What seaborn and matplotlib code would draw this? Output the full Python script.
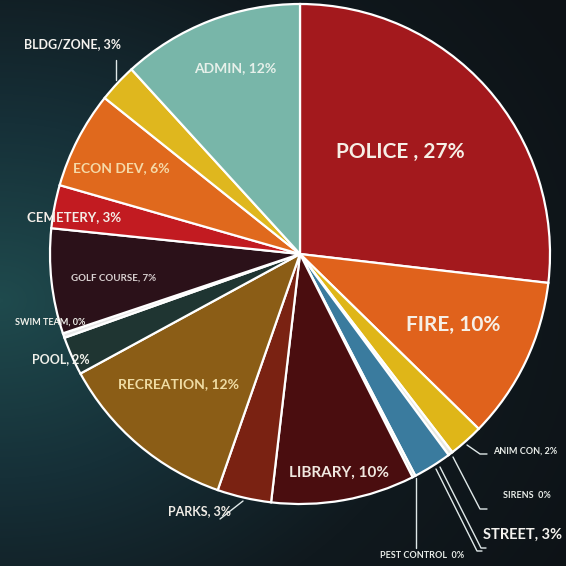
import numpy as np
import matplotlib
matplotlib.use("Agg")
import matplotlib.pyplot as plt
from matplotlib.colors import LinearSegmentedColormap
import seaborn as sns

sns.set_theme(style="white")
plt.rcParams['font.family'] = ['Lato', 'DejaVu Sans']

# ---- data (clockwise from 12 o'clock) ----
categories = ["POLICE", "FIRE", "ANIM CON", "SIRENS", "STREET", "PEST CONTROL",
              "LIBRARY", "PARKS", "RECREATION", "POOL", "SWIM TEAM",
              "GOLF COURSE", "CEMETERY", "ECON DEV", "BLDG/ZONE", "ADMIN"]
shares = [26.9, 10.5, 2.25, 0.3, 2.5, 0.2, 9.3, 3.5, 11.75, 2.5, 0.3,
          6.8, 2.8, 6.3, 2.5, 11.8]
labels = ["POLICE , 27%", "FIRE, 10%", "ANIM CON, 2%", "SIRENS  0%", "STREET, 3%",
          "PEST CONTROL  0%", "LIBRARY, 10%", "PARKS, 3%", "RECREATION, 12%",
          "POOL, 2%", "SWIM TEAM, 0%", "GOLF COURSE, 7%", "CEMETERY, 3%",
          "ECON DEV, 6%", "BLDG/ZONE, 3%", "ADMIN, 12%"]
colors = ["#a3191d", "#e0621c", "#dfb618", "#e8e8e0", "#3a7b9e", "#d8e0e0",
          "#4a0d0f", "#7a2212", "#8b5d16", "#1f3532", "#e8e8e8",
          "#2b1119", "#c21b21", "#e0691d", "#dfb71e", "#78b6a9"]

# ---- layout (pixel coordinates, y measured from top) ----
W = H = 566
cx, cy, R = 300, 254, 250
label_pos = {
    "POLICE": (400, 152, 15, "#f6efe6", "bold"),
    "FIRE": (453, 325, 15, "#f6efe6", "bold"),
    "ANIM CON": (525, 451, 6.5, "#e8ece8", "bold"),
    "SIRENS": (527, 495, 6.5, "#e8ece8", "bold"),
    "STREET": (523, 535, 10.5, "#f4f2ee", "bold"),
    "PEST CONTROL": (422, 556, 6.5, "#e8ece8", "bold"),
    "LIBRARY": (339, 473, 11, "#f0e8e0", "bold"),
    "PARKS": (200, 511, 9, "#f0ece6", "bold"),
    "RECREATION": (179, 384, 10, "#efdca4", "bold"),
    "POOL": (61, 359, 9, "#f0f0ea", "bold"),
    "SWIM TEAM": (50, 322, 6.5, "#f0f0ea", "bold"),
    "GOLF COURSE": (114, 278, 7, "#d8d0d0", "bold"),
    "CEMETERY": (74, 217, 9.5, "#f4eee8", "bold"),
    "ECON DEV": (121, 168, 10, "#f5d9a8", "bold"),
    "BLDG/ZONE": (72, 44, 9, "#f4f2ee", "bold"),
    "ADMIN": (235, 68, 10, "#e6f0ea", "bold"),
}
leaders = [
    [(467, 445), (480, 454), (487, 454)],
    [(453, 457), (480, 509), (487, 509)],
    [(436, 469), (477, 551), (482, 551)],
    [(440, 467), (481, 548), (486, 548)],
    [(416, 478), (416, 548)],
    [(116, 60), (116, 80)],
    [(220, 519), (243, 501)],
]

fig = plt.figure(figsize=(W / 100, H / 100), dpi=100)

# background gradient
bg = fig.add_axes([0, 0, 1, 1])
yy, xx = np.mgrid[0:H, 0:W]
d = np.sqrt(((xx - 0) / 420.0) ** 2 + ((yy - 300) / 330.0) ** 2)
cmap = LinearSegmentedColormap.from_list("bg", ["#1f4a4d", "#163038", "#10191e", "#0d1216"])
bg.imshow(np.clip(d, 0, 1.6), cmap=cmap, vmin=0, vmax=1.6, extent=[0, W, H, 0], aspect="auto")
bg.set_axis_off()

ax = fig.add_axes([0, 0, 1, 1])
ax.patch.set_alpha(0)
ax.pie(shares, colors=colors, startangle=90, counterclock=False,
       center=(cx, H - cy), radius=R,
       wedgeprops=dict(edgecolor="white", linewidth=1.6, antialiased=True))
ax.set_xlim(0, W)
ax.set_ylim(0, H)
ax.set_aspect("equal")
ax.set_axis_off()

for cat, lab in zip(categories, labels):
    x, y, fs, col, wt = label_pos[cat]
    ax.text(x, H - y, lab, ha="center", va="center", fontsize=fs, color=col,
            fontweight=wt)

for pts in leaders:
    xs = [p[0] for p in pts]
    ys = [H - p[1] for p in pts]
    ax.plot(xs, ys, color="#dfe8e8", lw=1.0)

fig.savefig("out.png", dpi=100)
